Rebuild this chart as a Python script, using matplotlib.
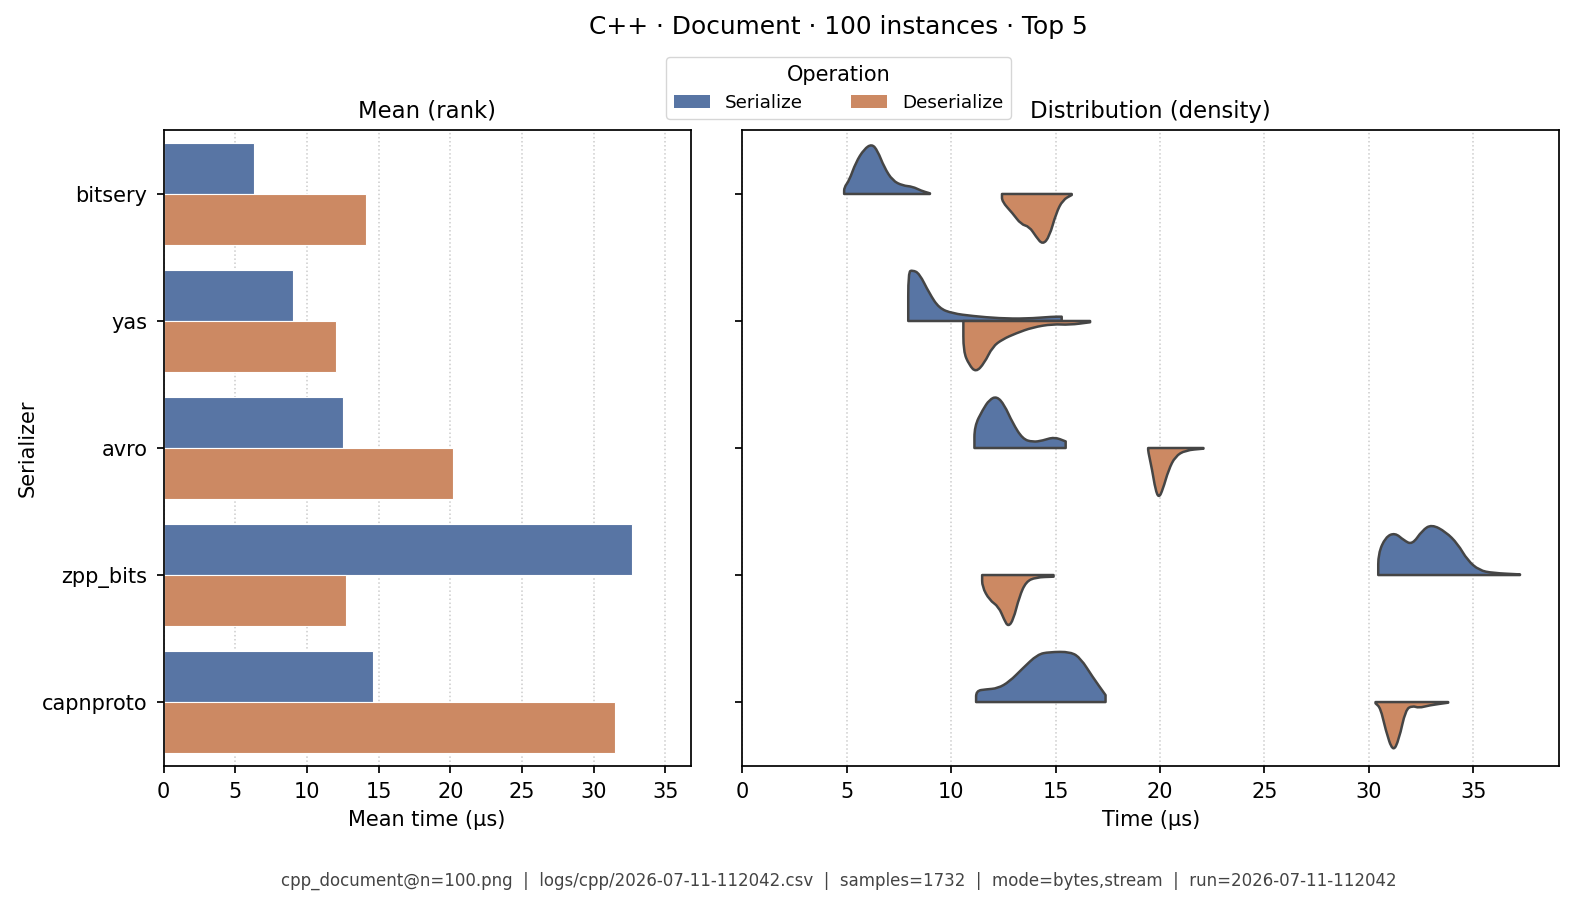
import matplotlib
matplotlib.use("Agg")
import matplotlib.pyplot as plt
from matplotlib.patches import Patch, PathPatch
from matplotlib.path import Path
import numpy as np

serializers = ["bitsery", "yas", "avro", "zpp_bits", "capnproto"]
operations  = ["Serialize", "Deserialize"]

mean_ser = [6.3, 9.0, 12.5, 32.7, 14.6]
mean_des = [14.1, 12.0, 20.2, 12.7, 31.5]

# density outlines: time (us) and half-width
bitsery_ser_x = [4.87, 4.87, 5.11, 5.43, 5.83, 6.20, 6.47, 6.79, 7.19, 7.67, 8.15, 8.55, 8.98]
bitsery_ser_h = [0.0, 0.052, 0.105, 0.249, 0.354, 0.394, 0.341, 0.21, 0.105, 0.066, 0.058, 0.026, 0.005]
bitsery_des_x = [12.43, 12.43, 12.94, 13.34, 13.74, 14.06, 14.38, 14.70, 15.02, 15.34, 15.77]
bitsery_des_h = [0.0, 0.06, 0.152, 0.239, 0.257, 0.336, 0.40, 0.336, 0.152, 0.047, 0.008]

yas_ser_x = [7.94, 7.94, 8.15, 8.47, 8.95, 9.42, 10.06, 11.02, 12.30, 13.58, 14.86, 15.29]
yas_ser_h = [0.0, 0.388, 0.40, 0.375, 0.218, 0.10, 0.06, 0.039, 0.021, 0.018, 0.034, 0.034]
yas_des_x = [10.58, 10.58, 10.86, 11.18, 11.58, 11.98, 12.46, 13.10, 13.90, 14.86, 15.66, 16.65]
yas_des_h = [0.0, 0.24, 0.346, 0.404, 0.333, 0.202, 0.144, 0.097, 0.05, 0.024, 0.031, 0.01]

avro_ser_x = [11.11, 11.11, 11.51, 11.83, 12.18, 12.54, 12.94, 13.42, 13.90, 14.37, 14.93, 15.48]
avro_ser_h = [0.0, 0.171, 0.302, 0.381, 0.407, 0.341, 0.197, 0.071, 0.047, 0.058, 0.087, 0.052]
avro_des_x = [19.43, 19.43, 19.62, 19.78, 19.94, 20.13, 20.41, 20.73, 21.21, 22.08]
avro_des_h = [0.0, 0.026, 0.171, 0.328, 0.394, 0.328, 0.171, 0.066, 0.018, 0.005]

zpp_ser_x = [30.45, 30.45, 30.80, 31.25, 31.68, 32.08, 32.56, 33.01, 33.69, 34.25, 34.73, 35.29, 35.93, 37.24]
zpp_ser_h = [0.0, 0.168, 0.299, 0.333, 0.273, 0.239, 0.352, 0.399, 0.339, 0.247, 0.115, 0.037, 0.016, 0.005]
zpp_des_x = [11.48, 11.48, 11.83, 12.27, 12.54, 12.73, 12.97, 13.26, 13.58, 14.05, 14.90]
zpp_des_h = [0.0, 0.092, 0.197, 0.249, 0.354, 0.407, 0.354, 0.171, 0.052, 0.018, 0.013]

capn_ser_x = [11.19, 11.19, 11.67, 12.23, 12.78, 13.42, 14.13, 14.69, 15.72, 16.20, 16.76, 17.39]
capn_ser_h = [0.0, 0.089, 0.10, 0.108, 0.16, 0.265, 0.375, 0.394, 0.396, 0.344, 0.20, 0.055]
capn_des_x = [30.32, 30.56, 30.80, 31.15, 31.44, 31.76, 32.08, 32.40, 32.88, 33.80]
capn_des_h = [0.01, 0.047, 0.218, 0.396, 0.297, 0.06, 0.029, 0.047, 0.026, 0.005]

ser_shapes = [(bitsery_ser_x, bitsery_ser_h), (yas_ser_x, yas_ser_h), (avro_ser_x, avro_ser_h),
              (zpp_ser_x, zpp_ser_h), (capn_ser_x, capn_ser_h)]
des_shapes = [(bitsery_des_x, bitsery_des_h), (yas_des_x, yas_des_h), (avro_des_x, avro_des_h),
              (zpp_des_x, zpp_des_h), (capn_des_x, capn_des_h)]

c_ser = "#5875a4"
c_des = "#cc8963"
edge  = "#454545"


def half_violin(ax, x, h, base, sign, color):
    # outline through the read points, rounded with quadratic segments
    pts = [(xi, base + sign * hi) for xi, hi in zip(x, h)]
    verts = [(x[0], base), pts[0]]
    codes = [Path.MOVETO, Path.LINETO]
    mid = lambda a, b: ((a[0] + b[0]) / 2, (a[1] + b[1]) / 2)
    verts.append(mid(pts[0], pts[1]))
    codes.append(Path.LINETO)
    for k in range(1, len(pts) - 1):
        verts += [pts[k], mid(pts[k], pts[k + 1])]
        codes += [Path.CURVE3, Path.CURVE3]
    verts += [pts[-1], (x[-1], base), (x[0], base)]
    codes += [Path.LINETO, Path.LINETO, Path.CLOSEPOLY]
    ax.add_patch(PathPatch(Path(verts, codes), facecolor=color, edgecolor=edge,
                           linewidth=1.8, joinstyle="round", zorder=2))


fig = plt.figure(figsize=(15.73, 9.06), dpi=100)
ax1 = fig.add_axes([0.104, 0.155, 0.335, 0.701])
ax2 = fig.add_axes([0.472, 0.155, 0.519, 0.701])

pos = np.arange(len(serializers))

# left: mean bars
ax1.barh(pos - 0.2, mean_ser, height=0.4, color=c_ser, edgecolor="white", linewidth=0.8, zorder=2)
ax1.barh(pos + 0.2, mean_des, height=0.4, color=c_des, edgecolor="white", linewidth=0.8, zorder=2)
ax1.set_yticks(pos)
ax1.set_yticklabels(serializers)
ax1.set_ylim(4.5, -0.5)
ax1.set_xlim(0, 36.75)
ax1.set_xticks(np.arange(0, 36, 5))
ax1.set_xlabel("Mean time (µs)", fontsize=15, labelpad=6)
ax1.set_ylabel("Serializer", fontsize=15, labelpad=3)
ax1.set_title("Mean (rank)", fontsize=16.4, pad=9)

# right: split densities
for i, (x, h) in enumerate(ser_shapes):
    half_violin(ax2, x, h, i, -1, c_ser)
for i, (x, h) in enumerate(des_shapes):
    half_violin(ax2, x, h, i, 1, c_des)
ax2.set_yticks(pos)
ax2.set_yticklabels([])
ax2.set_ylim(4.5, -0.5)
ax2.set_xlim(0, 39.1)
ax2.set_xticks(np.arange(0, 36, 5))
ax2.set_xlabel("Time (µs)", fontsize=15, labelpad=6)
ax2.set_title("Distribution (density)", fontsize=16.4, pad=9)

for ax in (ax1, ax2):
    ax.set_axisbelow(True)
    ax.grid(axis="x", linestyle=":", color="#cccccc", linewidth=1.1)
    ax.tick_params(labelsize=15, length=5, width=1.25, pad=6.5)
    for s in ax.spines.values():
        s.set_linewidth(1.25)

handles = [Patch(facecolor=c_ser), Patch(facecolor=c_des)]
fig.legend(handles, operations, title="Operation", ncol=2, loc="upper center",
           bbox_to_anchor=(0.533, 0.947), fontsize=13.2, title_fontsize=15, columnspacing=2.6)

fig.suptitle("C++ · Document · 100 instances · Top 5", x=0.533, y=0.983, fontsize=17.9)
fig.text(0.533, 0.028,
         "cpp_document@n=100.png  |  logs/cpp/2026-07-11-112042.csv  |  samples=1732  |  mode=bytes,stream  |  run=2026-07-11-112042",
         ha="center", va="center", fontsize=12, color="#444444")

fig.savefig("out.png", dpi=100)
